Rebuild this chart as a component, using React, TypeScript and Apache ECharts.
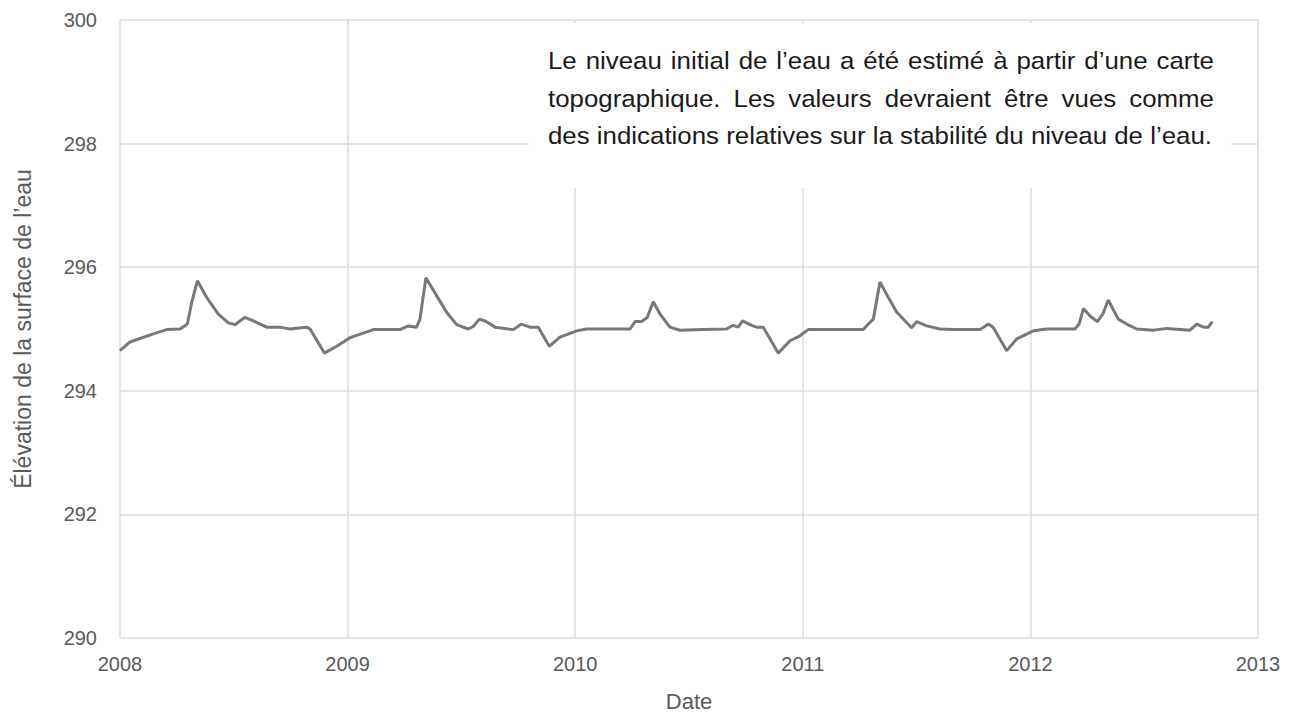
import React, { useEffect, useRef } from "react";
import * as echarts from "echarts";

// Decimal-year dates and water-surface elevations
const dates: number[] = [
  2008.0, 2008.044, 2008.146, 2008.205, 2008.264, 2008.296, 2008.315, 2008.34, 2008.381, 2008.432,
  2008.476, 2008.505, 2008.549, 2008.586, 2008.644, 2008.703, 2008.747, 2008.82, 2008.835, 2008.898,
  2008.952, 2009.011, 2009.113, 2009.23, 2009.267, 2009.303, 2009.318, 2009.344, 2009.391, 2009.435,
  2009.479, 2009.53, 2009.552, 2009.579, 2009.604, 2009.648, 2009.728, 2009.764, 2009.801, 2009.838,
  2009.886, 2009.933, 2010.007, 2010.05, 2010.241, 2010.263, 2010.292, 2010.317, 2010.343, 2010.373,
  2010.416, 2010.46, 2010.563, 2010.665, 2010.694, 2010.716, 2010.735, 2010.775, 2010.797, 2010.826,
  2010.892, 2010.944, 2010.987, 2011.024, 2011.12, 2011.266, 2011.288, 2011.31, 2011.339, 2011.376,
  2011.413, 2011.478, 2011.5, 2011.544, 2011.603, 2011.661, 2011.779, 2011.815, 2011.836, 2011.896,
  2011.94, 2012.013, 2012.072, 2012.196, 2012.214, 2012.233, 2012.262, 2012.294, 2012.318, 2012.342,
  2012.386, 2012.423, 2012.467, 2012.54, 2012.599, 2012.701, 2012.731, 2012.76, 2012.782, 2012.799,
];
const levels: number[] = [
  294.65, 294.79, 294.92, 294.99, 295.0, 295.08, 295.43, 295.78, 295.51, 295.24,
  295.1, 295.07, 295.19, 295.13, 295.03, 295.03, 295.0, 295.03, 295.0, 294.61,
  294.72, 294.86, 294.99, 294.99, 295.05, 295.03, 295.16, 295.83, 295.54, 295.27,
  295.07, 295.0, 295.04, 295.16, 295.13, 295.03, 294.99, 295.08, 295.03, 295.03,
  294.72, 294.87, 294.97, 295.0, 295.0, 295.12, 295.12, 295.19, 295.44, 295.24,
  295.03, 294.98, 294.99, 295.0, 295.06, 295.03, 295.13, 295.06, 295.03, 295.03,
  294.61, 294.81, 294.89, 294.99, 294.99, 294.99, 295.08, 295.16, 295.76, 295.51,
  295.27, 295.02, 295.12, 295.05, 295.0, 294.99, 294.99, 295.08, 295.03, 294.65,
  294.84, 294.97, 295.0, 295.0, 295.08, 295.33, 295.21, 295.12, 295.24, 295.47,
  295.16, 295.08, 295.0, 294.98, 295.01, 294.98, 295.08, 295.03, 295.03, 295.12,
];

const noteLines: string[] = [
  "Le niveau initial de l\u2019eau a été estimé à partir d\u2019une carte",
  "topographique. Les valeurs devraient être vues comme",
  "des indications relatives sur la stabilité du niveau de l\u2019eau.",
];

const xTitle = "Date";
const yTitle = "Élévation de la surface de l\u2019eau";

const FONT = "'Liberation Sans', Arial, sans-serif";

export default function App() {
  const ref = useRef<HTMLDivElement>(null);

  useEffect(() => {
    if (!ref.current) return;
    const chart = echarts.init(ref.current, null, { renderer: "svg" });

    // build justified note text
    const fs = 24;
    const canvas = document.createElement("canvas");
    const ctx = canvas.getContext("2d")!;
    ctx.font = `${fs}px ${FONT}`;
    const left = 548;
    const fullW = 666;
    const lastW = 664;
    const natural3 = ctx.measureText(noteLines[2]).width;
    const sx = lastW / natural3;
    const spaceW = ctx.measureText(" ").width * sx;
    const centersY = [60, 98, 135];
    const textEls: any[] = [];
    noteLines.forEach((line, i) => {
      const words = line.split(" ");
      const widths = words.map((w) => ctx.measureText(w).width * sx);
      const sum = widths.reduce((a, b) => a + b, 0);
      const gap = i < 2 ? (fullW - sum) / (words.length - 1) : spaceW;
      let x = left;
      words.forEach((w, j) => {
        textEls.push({
          type: "text",
          x,
          y: centersY[i],
          scaleX: sx,
          z: 21,
          style: {
            text: w,
            font: `${fs}px ${FONT}`,
            fill: "#1a1a1a",
            verticalAlign: "middle",
            align: "left",
          },
        });
        x += widths[j] + gap;
      });
    });

    chart.setOption({
      animation: false,
      backgroundColor: "#ffffff",
      grid: { left: 120, right: 40, top: 20, bottom: 77, containLabel: false },
      xAxis: {
        type: "value",
        min: 2008,
        max: 2013,
        interval: 1,
        name: xTitle,
        nameLocation: "middle",
        nameGap: 52,
        nameTextStyle: { color: "#595959", fontSize: 22, fontFamily: FONT },
        axisLine: { show: false },
        axisTick: { show: false },
        axisLabel: {
          color: "#595959",
          fontSize: 20,
          fontFamily: FONT,
          margin: 16,
          formatter: (v: number) => String(v),
        },
        splitLine: { show: true, lineStyle: { color: "#dcdcdc", width: 1.5 } },
      },
      yAxis: {
        type: "value",
        min: 290,
        max: 300,
        interval: 2,
        name: yTitle,
        nameLocation: "middle",
        nameGap: 86,
        nameTextStyle: { color: "#595959", fontSize: 23, fontFamily: FONT },
        axisLine: { show: false },
        axisTick: { show: false },
        axisLabel: { color: "#595959", fontSize: 20, fontFamily: FONT, margin: 23 },
        splitLine: { show: true, lineStyle: { color: "#dcdcdc", width: 1.5 } },
      },
      series: [
        {
          type: "line",
          data: dates.map((d, i) => [d, levels[i]]),
          showSymbol: false,
          symbol: "none",
          lineStyle: { color: "#787878", width: 3 },
          z: 5,
        },
      ],
      graphic: [
        {
          type: "rect",
          shape: { x: 529, y: 23, width: 702, height: 165 },
          style: { fill: "#ffffff" },
          z: 20,
        },
        ...textEls,
      ],
    });

    return () => chart.dispose();
  }, []);

  return (
    <div
      ref={ref}
      style={{ position: "fixed", left: 0, top: 0, width: 1298, height: 717 }}
    />
  );
}
